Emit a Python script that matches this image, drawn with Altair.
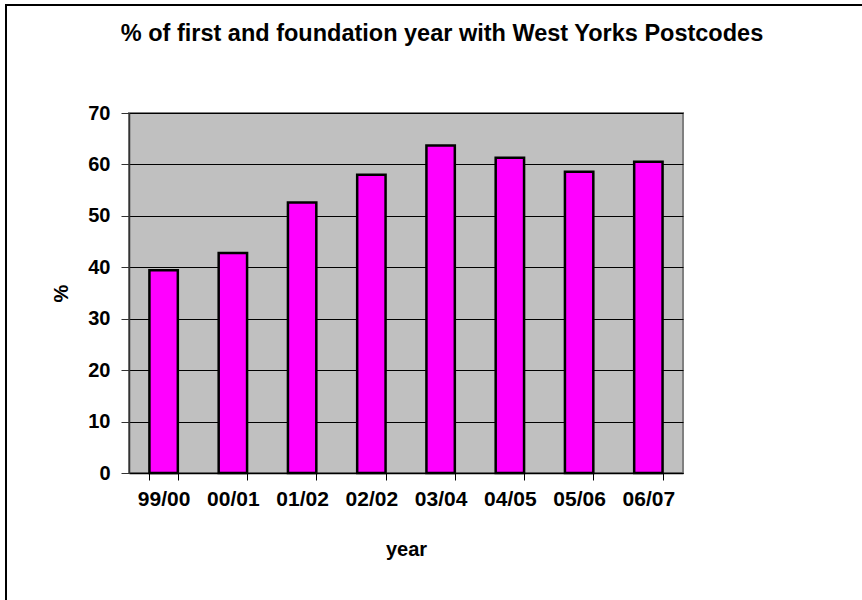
import altair as alt
import pandas as pd

# Academic years and share (%) of first/foundation-year students with West Yorks postcodes
years = ["99/00", "00/01", "01/02", "02/02", "03/04", "04/05", "05/06", "06/07"]
percent = [39.4, 42.8, 52.6, 58.0, 63.7, 61.3, 58.6, 60.5]
chart_title = "% of first and foundation year with West Yorks Postcodes"

df = pd.DataFrame({"year": years, "pct": percent})

FONT = "Liberation Sans"

bars = alt.Chart(df).mark_bar(
    color="#FF00FF", stroke="#000000", strokeWidth=2.5
).encode(
    x=alt.X(
        "year:N",
        sort=years,
        title="year",
        scale=alt.Scale(paddingInner=0.59, paddingOuter=0.295),
        axis=alt.Axis(
            labelAngle=0, labelFont=FONT, labelFontSize=21, labelFontWeight="bold",
            labelColor="#000000", labelPadding=8, titleFont=FONT, titleFontSize=20,
            titleFontWeight="bold", titleColor="#000000", titlePadding=30,
            domainColor="#000000", domainWidth=1.5, tickColor="#000000",
            tickSize=7, tickBand="extent", grid=False,
        ),
    ),
    y=alt.Y(
        "pct:Q",
        title="%",
        scale=alt.Scale(domain=[0, 70], nice=False),
        axis=alt.Axis(
            values=list(range(0, 71, 10)), labelFont=FONT, labelFontSize=20,
            labelFontWeight="bold", labelColor="#000000", labelPadding=11,
            titleFont=FONT, titleFontSize=20, titleFontWeight="bold",
            titleColor="#000000", titlePadding=16, domainColor="#333333",
            domainWidth=1.5, tickColor="#333333", tickSize=8,
            grid=True, gridColor="#000000", gridWidth=1,
        ),
    ),
)

single = alt.Data(values=[{"t": chart_title}])

# Chart title, centred over the whole chart area
title_text = alt.Chart(single).mark_text(
    font=FONT, fontSize=23.5, fontWeight="bold", color="#000000",
    align="center", baseline="middle",
).encode(text="t:N", x=alt.value(313), y=alt.value(-79))

# Outer chart-area border; its right and bottom edges run past the canvas
frame = alt.Chart(single).mark_rect(
    fill=None, fillOpacity=0, stroke="#000000", strokeWidth=2
).encode(
    x=alt.value(-123), x2=alt.value(760), y=alt.value(-108), y2=alt.value(520)
)

chart = alt.layer(bars, title_text, frame).properties(
    width=554,
    height=360,
    background="#FFFFFF",
    autosize=alt.AutoSizeParams(type="none"),
    padding={"left": 129, "top": 113, "right": 179, "bottom": 127},
).configure_view(
    fill="#C0C0C0", stroke="#808080", strokeWidth=2
)

chart.save("out.html", embed_options={"renderer": "svg", "actions": False})
